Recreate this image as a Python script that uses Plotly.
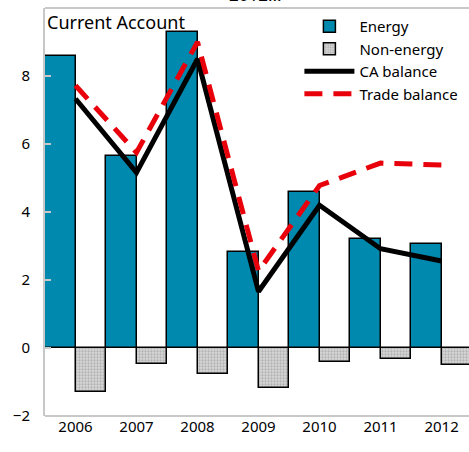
import plotly.graph_objects as go

years = ["2006", "2007", "2008", "2009", "2010", "2011", "2012"]
energy = [8.58, 5.64, 9.28, 2.82, 4.58, 3.22, 3.07]
non_energy = [-1.29, -0.46, -0.77, -1.19, -0.40, -0.33, -0.50]
ca_balance = [7.33, 5.16, 8.5, 1.66, 4.2, 2.92, 2.56]
trade_balance = [7.72, 5.75, 9.0, 2.26, 4.78, 5.44, 5.38]

FONT = "Noto Sans"

fig = go.Figure()
fig.add_trace(go.Bar(
    x=years, y=energy, name="Energy",
    marker=dict(color="#0089AE", line=dict(color="black", width=1.5)),
))
fig.add_trace(go.Bar(
    x=years, y=non_energy, name="Non-energy",
    marker=dict(color="#c4c4c4", line=dict(color="black", width=1.5),
                pattern=dict(shape=".", bgcolor="#d8d8d8", fgcolor="#8c8c8c",
                             size=3, solidity=0.45)),
))
fig.add_trace(go.Scatter(
    x=years, y=ca_balance, name="CA balance", mode="lines",
    line=dict(color="black", width=5),
))
fig.add_trace(go.Scatter(
    x=years, y=trade_balance, name="Trade balance", mode="lines",
    line=dict(color="#E8000B", width=5, dash="18px,11px"),
))

fig.add_annotation(
    text="Current Account", xref="paper", yref="paper", x=0.0, y=1.0,
    xanchor="left", yanchor="top", showarrow=False,
    font=dict(family=FONT, size=18, color="black"),
)
fig.add_annotation(
    text="2012...", xref="paper", yref="paper", x=(255 - 45) / 424, y=0.999,
    xanchor="center", yanchor="bottom", showarrow=False,
    font=dict(family=FONT, size=17, color="black"),
)

fig.update_layout(
    width=469, height=452,
    margin=dict(l=45, r=0, t=8, b=36),
    paper_bgcolor="white", plot_bgcolor="white",
    barmode="group", bargap=0, bargroupgap=0,
    font=dict(family=FONT, size=15, color="black"),
    showlegend=True,
    legend=dict(
        x=0.6, y=0.995, xanchor="left", yanchor="top",
        bgcolor="rgba(0,0,0,0)", font=dict(family=FONT, size=15),
        tracegroupgap=0, itemwidth=50,
    ),
    xaxis=dict(
        type="category", range=[-0.5, 6.45], showgrid=False,
        showline=False, ticks="", tickfont=dict(size=15),
        fixedrange=True,
    ),
    yaxis=dict(
        range=[-2, 10], dtick=2, showgrid=False, zeroline=False,
        showline=True, linecolor="#c8c8c8", linewidth=2, mirror=False,
        ticks="inside", ticklen=6, tickcolor="#c8c8c8", tickwidth=1.5,
        tickfont=dict(size=15), ticklabelstandoff=10,
    ),
    shapes=[
        dict(type="line", xref="paper", yref="paper", x0=0, x1=1, y0=1, y1=1,
             line=dict(color="#c8c8c8", width=2)),
        dict(type="line", xref="paper", yref="paper", x0=0, x1=1, y0=0, y1=0,
             line=dict(color="#c8c8c8", width=2)),
    ],
)

fig.write_html("out.html", post_script="document.body.style.margin='0';",
               config={"displayModeBar": False})
